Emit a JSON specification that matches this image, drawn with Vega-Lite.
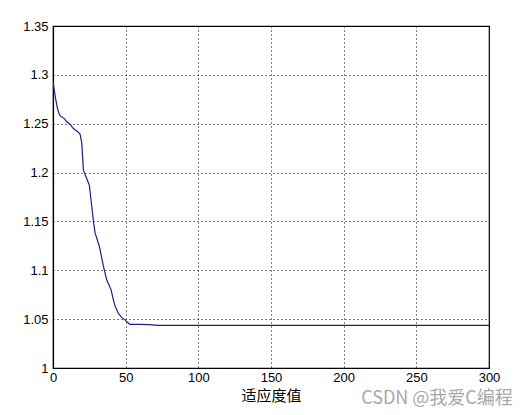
{
  "$schema": "https://vega.github.io/schema/vega-lite/v6.json",
  "autosize": "none",
  "width": 436,
  "height": 342,
  "padding": {"left": 53, "top": 26, "right": 33, "bottom": 47},
  "background": "white",
  "title": {"text": "CSDN @我爱C编程", "orient": "bottom", "anchor": "end", "color": "#a8a8a8", "fontSize": 18, "font": "Noto Sans CJK SC", "fontWeight": "normal", "offset": 0, "dy": -13, "dx": 13},
  "data": {"values": [
    {"x": 0, "y": 1.293}, {"x": 1, "y": 1.283}, {"x": 2, "y": 1.274}, {"x": 3, "y": 1.266},
    {"x": 4, "y": 1.261}, {"x": 5, "y": 1.258}, {"x": 6, "y": 1.257}, {"x": 8, "y": 1.255},
    {"x": 9.4, "y": 1.252}, {"x": 12, "y": 1.249}, {"x": 14, "y": 1.245}, {"x": 16.8, "y": 1.242},
    {"x": 18.6, "y": 1.2395}, {"x": 19.8, "y": 1.23}, {"x": 20.9, "y": 1.203}, {"x": 22, "y": 1.198},
    {"x": 23.2, "y": 1.194}, {"x": 25, "y": 1.187}, {"x": 26.7, "y": 1.165}, {"x": 28, "y": 1.148},
    {"x": 29, "y": 1.138}, {"x": 30.5, "y": 1.131}, {"x": 32, "y": 1.124}, {"x": 34.7, "y": 1.104},
    {"x": 37, "y": 1.09}, {"x": 38.5, "y": 1.085}, {"x": 40, "y": 1.08}, {"x": 41.5, "y": 1.07},
    {"x": 42.8, "y": 1.063}, {"x": 45, "y": 1.056}, {"x": 47, "y": 1.052}, {"x": 49.7, "y": 1.049},
    {"x": 51, "y": 1.047}, {"x": 53, "y": 1.0447}, {"x": 60, "y": 1.0447}, {"x": 66, "y": 1.0443},
    {"x": 72.6, "y": 1.0437}, {"x": 100, "y": 1.0437}, {"x": 300, "y": 1.0437}
  ]},
  "mark": {"type": "line", "color": "#1c1c8f", "strokeWidth": 1.2, "clip": true},
  "encoding": {
    "x": {"field": "x", "type": "quantitative", "scale": {"domain": [0, 300], "nice": false, "zero": false},
      "axis": {"title": "适应度值", "values": [0, 50, 100, 150, 200, 250, 300]}},
    "y": {"field": "y", "type": "quantitative", "scale": {"domain": [1, 1.35], "nice": false, "zero": false},
      "axis": {"title": null, "values": [1, 1.05, 1.1, 1.15, 1.2, 1.25, 1.3, 1.35], "labelExpr": "format(datum.value, '~g')"}}
  },
  "config": {
    "view": {"stroke": "black", "strokeWidth": 1.2},
    "axis": {
      "domainColor": "black", "domainWidth": 1.2,
      "ticks": false,
      "grid": true, "gridColor": "black", "gridDash": [1, 3], "gridOpacity": 1, "gridWidth": 1,
      "labelFont": "Liberation Sans", "labelFontSize": 13, "labelColor": "black",
      "titleFont": "Noto Sans CJK SC", "titleFontSize": 15, "titleFontWeight": "normal", "titleColor": "black"
    },
    "axisX": {"labelPadding": 3, "titlePadding": 4, "labelFlush": false},
    "axisY": {"labelPadding": 5, "labelFlush": false}
  }
}
